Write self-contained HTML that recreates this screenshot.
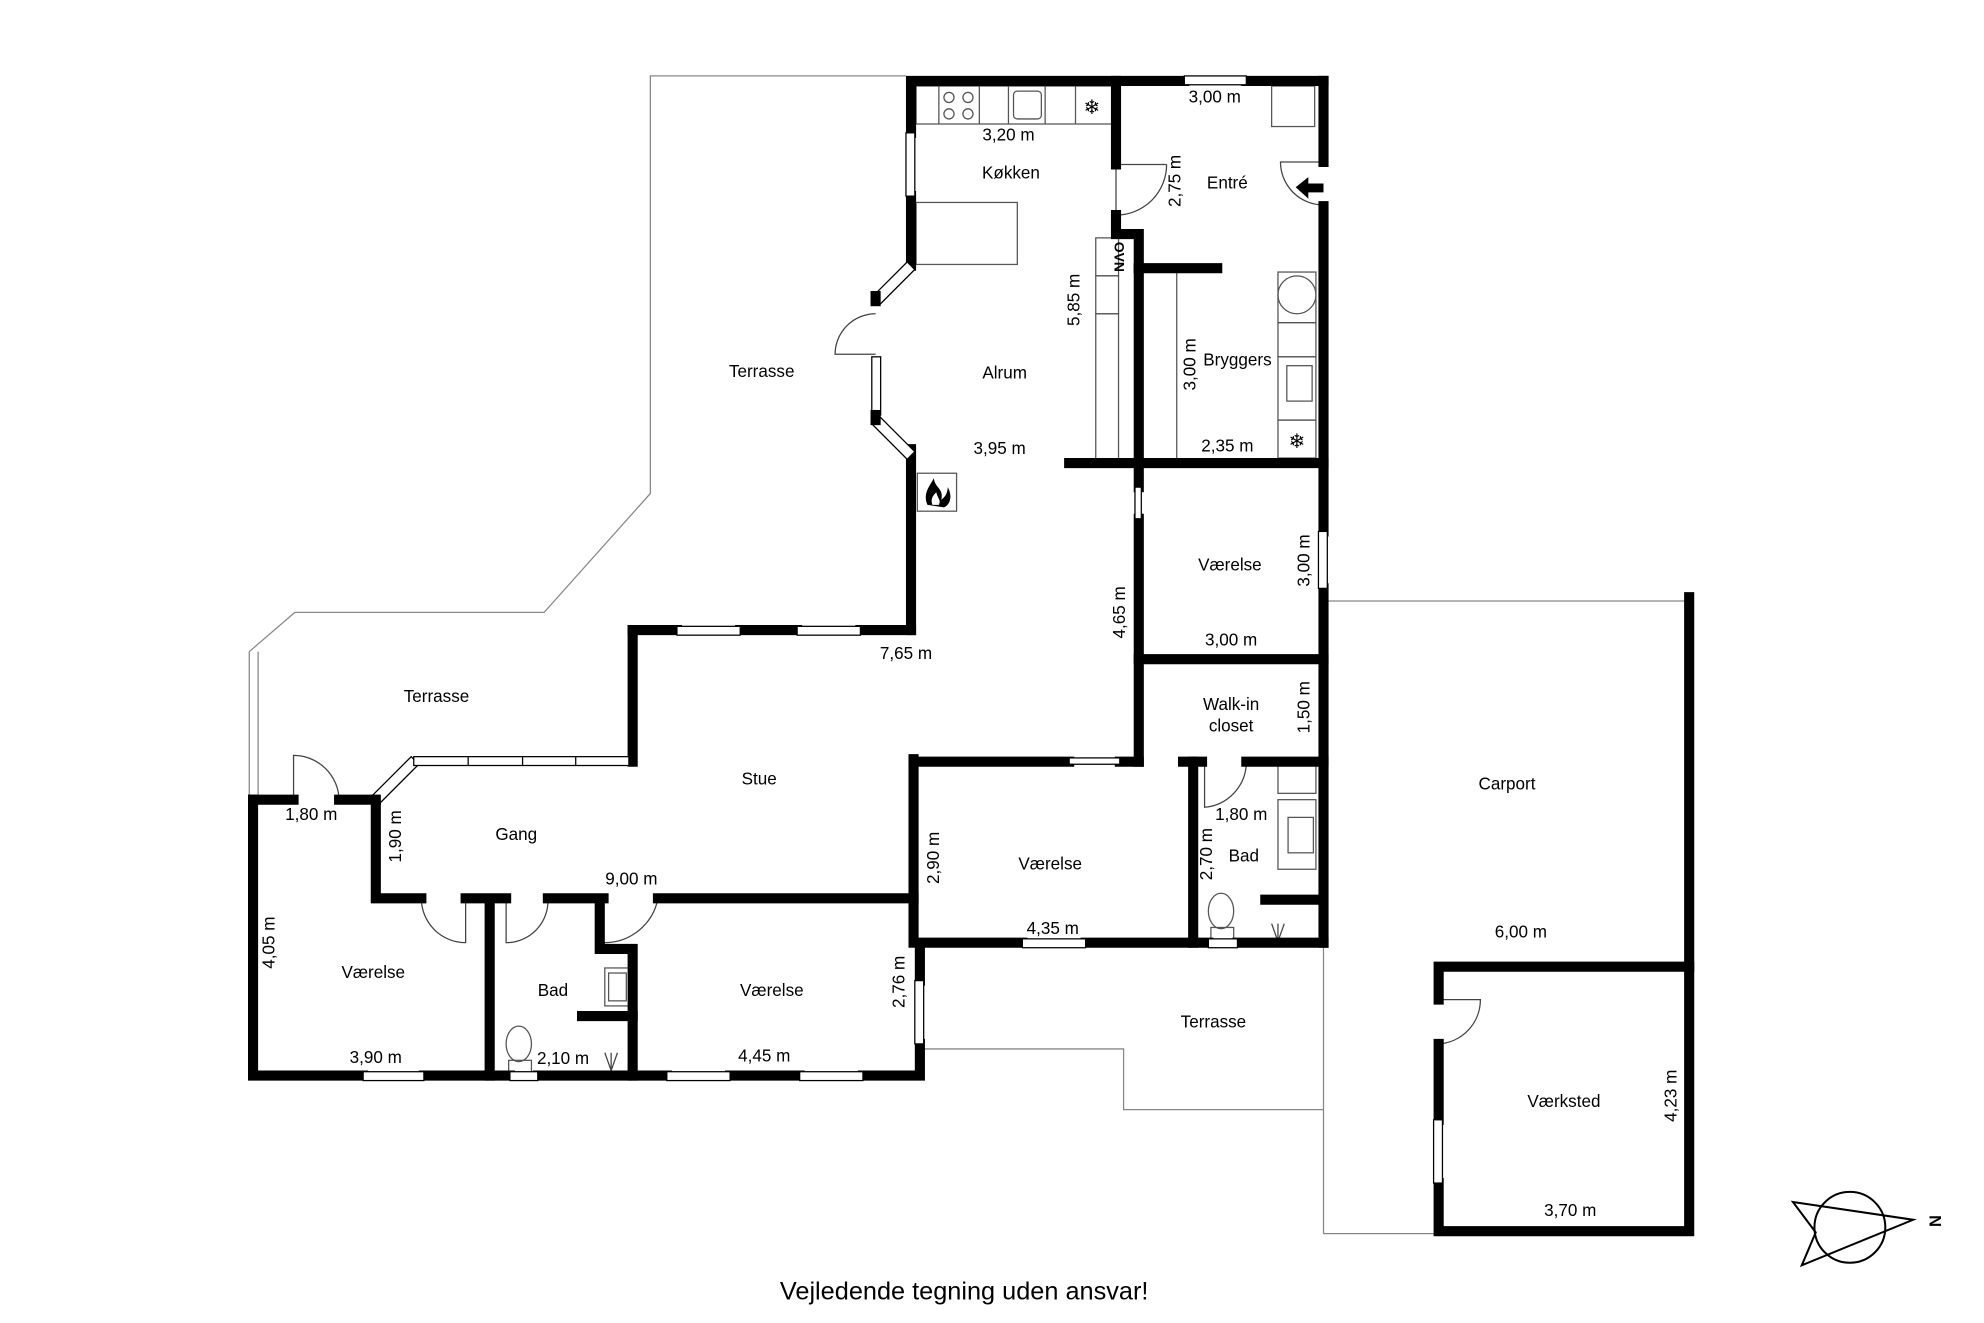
<!DOCTYPE html>
<html><head><meta charset="utf-8"><style>
html,body{margin:0;padding:0;background:#fff}
svg{display:block}
text{font-family:"Liberation Sans",Arial,sans-serif;font-size:13.5px;fill:#000;text-anchor:middle}
</style></head><body>
<svg width="1984" height="1323" viewBox="0 0 1568 1045.6" xmlns="http://www.w3.org/2000/svg">
<rect width="1568" height="1046" fill="#fff"/>
<g fill="none" stroke="#888" stroke-width="1">
<polyline points="716,60 514,60 514,390 430,484 233,484 197,515 197,632"/>
<line x1="204" y1="515" x2="204" y2="632"/>
<polyline points="730,829 888,829 888,877 1046,877"/>
<polyline points="1046,745 1046,975 1137,975"/>
<polyline points="1046,475 1335,475"/>
</g>
<g fill="none" stroke="#555" stroke-width="1">
<rect x="724" y="68" width="156" height="30"/>
<line x1="742" y1="68" x2="742" y2="98"/><line x1="774" y1="68" x2="774" y2="98"/>
<line x1="797" y1="68" x2="797" y2="98"/><line x1="826" y1="68" x2="826" y2="98"/>
<line x1="850" y1="68" x2="850" y2="98"/>
<circle cx="750" cy="77" r="4"/><circle cx="765" cy="77" r="4"/><circle cx="750" cy="90" r="4"/><circle cx="765" cy="90" r="4"/>
<rect x="801" y="72" width="22" height="22" rx="3"/>
<rect x="724" y="160" width="80" height="49"/>
<rect x="866" y="188" width="18" height="30"/>
<rect x="866" y="218" width="18" height="30"/>
<rect x="866" y="248" width="18" height="115"/>
<line x1="930" y1="215" x2="930" y2="363"/>
<rect x="1010" y="215" width="30" height="40"/>
<circle cx="1025" cy="233" r="15"/>
<rect x="1010" y="255" width="30" height="27"/>
<rect x="1010" y="282" width="30" height="50"/>
<rect x="1017" y="289" width="20" height="28"/>
<rect x="1010" y="332" width="30" height="30"/>
<rect x="1005" y="68" width="34" height="32"/>
<rect x="725" y="374" width="31" height="30"/>
<rect x="478" y="765" width="20" height="30"/>
<rect x="481" y="769" width="14" height="22"/>
<ellipse cx="410" cy="825" rx="10" ry="14"/>
<rect x="402" y="838" width="18" height="10"/>
<rect x="1010" y="632" width="30" height="55"/>
<rect x="1018" y="646" width="20" height="28"/>
<rect x="1010" y="605" width="30" height="22"/>
<ellipse cx="965" cy="720" rx="10" ry="14"/>
<rect x="957" y="733" width="18" height="10"/>
</g>
<text x="863" y="90" style="font-size:16px">❄</text>
<text x="1025" y="354" style="font-size:16px">❄</text>
<g fill="#000">
<path d="M733,399 C729,390 735,384 738,378 C739,386 746,386 744,395 C748,392 749,388 749,385 C753,392 751,399 746,401 Z"/>
<path d="M737,399 C735,394 738,391 740,389 C741,394 744,395 742,399 Z" fill="#fff"/>
</g>
<text x="881" y="203" transform="rotate(90 881 203)" style="font-size:11px;font-weight:bold">OVN</text>
<g fill="none" stroke="#444" stroke-width="1">
<path d="M882,170 L882,130 M882,170 A40,40 0 0 0 922,130 M882,130 L922,130"/>
<path d="M1046,162 A34,34 0 0 1 1012,128 L1046,128"/>
<path d="M692,280 L660,280 A32,32 0 0 1 692,248"/>
<path d="M232,632 L232,597 A36,36 0 0 1 268,632"/>
<path d="M333,710 L333,710 A35,35 0 0 0 368,745 L368,710"/>
<path d="M400,710 L400,745 A33,33 0 0 0 433,710"/>
<path d="M477,710 L477,745 A43,43 0 0 0 520,710"/>
<path d="M952,602 L952,638 A36,36 0 0 0 985,602"/>
<path d="M1137,790 L1170,790 A35,35 0 0 1 1137,825"/>
<path d="M1015,730 L1010,744 L1005,730 M1010,730 L1010,744"/>
<path d="M478,832 L483,846 L488,832 M483,832 L483,846"/>
</g>
<polygon points="1024,148 1034,140 1034,145 1046,145 1046,152 1034,152 1034,157" fill="#000"/>
<g stroke="#000" stroke-width="8" fill="none" stroke-linecap="square">
<polyline points="720,105 720,64 936,64"/><line x1="985" y1="64" x2="1046" y2="64"/>
<polyline points="1046,64 1046,128"/><polyline points="1046,163 1046,420"/><line x1="1046" y1="465" x2="1046" y2="745"/>
<line x1="720" y1="155" x2="720" y2="210"/>
<line x1="720" y1="355" x2="720" y2="498"/>
<polyline points="680,498 720,498"/><line x1="585" y1="498" x2="630" y2="498"/><line x1="500" y1="498" x2="535" y2="498"/>
<polyline points="500,498 500,602"/>
<polyline points="297,632 297,710 333,710"/><line x1="368" y1="710" x2="400" y2="710"/><line x1="433" y1="710" x2="477" y2="710"/><line x1="520" y1="710" x2="722" y2="710"/>
<polyline points="200,632 232,632"/><line x1="268" y1="632" x2="297" y2="632"/>
<polyline points="200,632 200,850 287,850"/><line x1="335" y1="850" x2="403" y2="850"/><line x1="425" y1="850" x2="527" y2="850"/><line x1="577" y1="850" x2="632" y2="850"/><polyline points="682,850 727,850 727,825"/>
<line x1="727" y1="775" x2="727" y2="750"/>
<line x1="387" y1="714" x2="387" y2="850"/>
<polyline points="474,714 474,750 500,750 500,850"/><line x1="460" y1="803" x2="500" y2="803"/>
<polyline points="722,600 722,745 808,745"/><line x1="858" y1="745" x2="955" y2="745"/><line x1="978" y1="745" x2="1046" y2="745"/>
<line x1="722" y1="602" x2="845" y2="602"/><line x1="885" y1="602" x2="900" y2="602"/>
<line x1="900" y1="602" x2="900" y2="410"/><line x1="900" y1="385" x2="900" y2="212"/>
<line x1="900" y1="521" x2="1046" y2="521"/>
<line x1="943" y1="602" x2="943" y2="745"/><line x1="935" y1="602" x2="950" y2="602"/><line x1="985" y1="602" x2="1046" y2="602"/>
<line x1="1000" y1="711" x2="1042" y2="711"/>
<line x1="845" y1="366" x2="1046" y2="366"/>
<line x1="900" y1="212" x2="962" y2="212"/>
<polyline points="882,64 882,130"/><polyline points="882,170 882,185 900,185 900,212"/>
<polyline points="1335,472 1335,973 1137,973 1137,935"/><line x1="1137" y1="885" x2="1137" y2="825"/><polyline points="1137,790 1137,764 1335,764"/>
</g>
<g stroke="#000" stroke-width="1" fill="#fff">
<polygon points="717,207 723,213 695,241 689,235"/>
<polygon points="689,335 695,329 723,357 717,363"/>
<polygon points="325,598 331,604 301,634 295,628"/>
<rect x="689" y="282" width="7" height="46"/>
<rect x="716" y="105" width="7" height="50"/>
<rect x="936" y="60" width="49" height="7"/>
<rect x="1042" y="420" width="7" height="45"/>
<rect x="535" y="495" width="50" height="7"/><rect x="630" y="495" width="50" height="7"/>
<rect x="327" y="598" width="170" height="7"/>
<rect x="287" y="847" width="48" height="7"/><rect x="403" y="847" width="22" height="7"/><rect x="527" y="847" width="50" height="7"/><rect x="632" y="847" width="50" height="7"/>
<rect x="723" y="775" width="7" height="50"/>
<rect x="808" y="742" width="50" height="7"/><rect x="955" y="742" width="23" height="7"/>
<rect x="845" y="599" width="40" height="5"/>
<rect x="897" y="385" width="5" height="25"/>
<rect x="1133" y="885" width="7" height="50"/>
</g>
<g fill="#000">
<rect x="688" y="230" width="8" height="12"/><rect x="688" y="324" width="8" height="12"/>
<rect x="293" y="628" width="8" height="8"/>
</g>
<g stroke="#000" stroke-width="1">
<line x1="370" y1="598" x2="370" y2="605"/><line x1="413" y1="598" x2="413" y2="605"/><line x1="455" y1="598" x2="455" y2="605"/>
</g>
<text x="797" y="111">3,20 m</text>
<text x="799" y="141">Køkken</text>
<text x="960" y="81">3,00 m</text>
<text x="970" y="149">Entré</text>
<text x="602" y="298">Terrasse</text>
<text x="794" y="299">Alrum</text>
<text x="790" y="359">3,95 m</text>
<text x="978" y="289">Bryggers</text>
<text x="970" y="357">2,35 m</text>
<text x="972" y="451">Værelse</text>
<text x="973" y="510">3,00 m</text>
<text x="716" y="521">7,65 m</text>
<text x="345" y="555">Terrasse</text>
<text x="973" y="561">Walk-in</text>
<text x="973" y="578">closet</text>
<text x="600" y="620">Stue</text>
<text x="1191" y="624">Carport</text>
<text x="246" y="648">1,80 m</text>
<text x="981" y="648">1,80 m</text>
<text x="408" y="664">Gang</text>
<text x="983" y="681">Bad</text>
<text x="830" y="687">Værelse</text>
<text x="499" y="699">9,00 m</text>
<text x="832" y="738">4,35 m</text>
<text x="1202" y="741">6,00 m</text>
<text x="295" y="773">Værelse</text>
<text x="437" y="787">Bad</text>
<text x="610" y="787">Værelse</text>
<text x="959" y="812">Terrasse</text>
<text x="297" y="840">3,90 m</text>
<text x="445" y="841">2,10 m</text>
<text x="604" y="839">4,45 m</text>
<text x="1236" y="875">Værksted</text>
<text x="1241" y="961">3,70 m</text>
<text transform="translate(933,143) rotate(-90)">2,75 m</text>
<text transform="translate(853,237) rotate(-90)">5,85 m</text>
<text transform="translate(945,288) rotate(-90)">3,00 m</text>
<text transform="translate(1035,443) rotate(-90)">3,00 m</text>
<text transform="translate(889,484) rotate(-90)">4,65 m</text>
<text transform="translate(1035,559) rotate(-90)">1,50 m</text>
<text transform="translate(317,661) rotate(-90)">1,90 m</text>
<text transform="translate(742,678) rotate(-90)">2,90 m</text>
<text transform="translate(958,675) rotate(-90)">2,70 m</text>
<text transform="translate(217,745) rotate(-90)">4,05 m</text>
<text transform="translate(715,776) rotate(-90)">2,76 m</text>
<text transform="translate(1325,866) rotate(-90)">4,23 m</text>
<text x="762" y="1027" style="font-size:20px">Vejledende tegning uden ansvar!</text>
<g fill="none" stroke="#000" stroke-width="1.6">
<circle cx="1462" cy="970" r="28"/>
<polygon points="1417,950 1512,964 1424,1000 1435,974"/>
</g>
<text transform="translate(1525,965) rotate(90)" style="font-size:13px;font-weight:bold">N</text>
</svg>
</body></html>
